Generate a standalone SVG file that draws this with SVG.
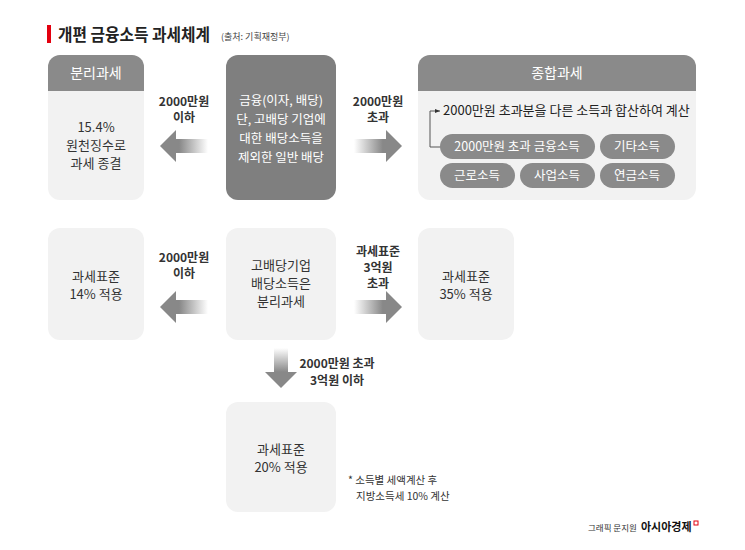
<svg xmlns="http://www.w3.org/2000/svg" width="745" height="550" viewBox="0 0 745 550">
<style>
text{font-family:"Noto Sans CJK KR","Noto Sans",sans-serif;}
.t{font-size:13px;fill:#333;text-anchor:middle}
.w{font-size:12.5px;fill:#fff;text-anchor:middle}
.b{font-size:12px;font-weight:bold;fill:#333;text-anchor:middle}
.light{fill:#f2f2f2}
.hd{fill:#8a8a8a}
</style>
<defs>
<linearGradient id="gl" x1="0" x2="1"><stop offset="0.4" stop-color="#888"/><stop offset="1" stop-color="#888" stop-opacity="0"/></linearGradient>
<linearGradient id="gr" x1="1" x2="0"><stop offset="0.4" stop-color="#888"/><stop offset="1" stop-color="#888" stop-opacity="0"/></linearGradient>
<linearGradient id="gd" x1="0" y1="1" x2="0" y2="0"><stop offset="0.4" stop-color="#888"/><stop offset="1" stop-color="#888" stop-opacity="0"/></linearGradient>
<marker id="ah" markerWidth="6" markerHeight="6" refX="5" refY="3" orient="auto"><path d="M0,1 L5,3 L0,5z" fill="#333"/></marker>
</defs>
<rect width="745" height="550" fill="#fff"/>
<rect x="47" y="25" width="4" height="18" fill="#e3000f"/>
<text x="58" y="41" textLength="152" lengthAdjust="spacingAndGlyphs" style="font-size:16.5px;font-weight:bold;fill:#222">개편 금융소득 과세체계</text>
<text x="221" y="40" style="font-size:9px;fill:#444">(출처: 기획재정부)</text>

<g id="sep">
<rect x="48" y="55" width="96" height="145" rx="12" class="light"/>
<path d="M48,91 V67 a12,12 0 0 1 12,-12 H132 a12,12 0 0 1 12,12 V91z" class="hd"/>
<text x="96" y="78" class="w" style="font-size:14px">분리과세</text>
<text x="96" y="132" class="t">15.4%</text>
<text x="96" y="150" class="t">원천징수로</text>
<text x="96" y="168" class="t">과세 종결</text>
</g>
<g id="fin">
<rect x="226" y="55" width="110" height="145" rx="12" fill="#7f7f7f"/>
<text x="281" y="105" class="w">금융(이자, 배당)</text>
<text x="281" y="124" class="w">단, 고배당 기업에</text>
<text x="281" y="143" class="w">대한 배당소득을</text>
<text x="281" y="162" class="w">제외한 일반 배당</text>
</g>
<g id="comp">
<rect x="418" y="55" width="278" height="145" rx="12" class="light"/>
<path d="M418,91 V67 a12,12 0 0 1 12,-12 H684 a12,12 0 0 1 12,12 V91z" class="hd"/>
<text x="557" y="78" class="w" style="font-size:14px">종합과세</text>
<text x="443" y="115" style="font-size:13px;fill:#222">2000만원 초과분을 다른 소득과 합산하여 계산</text>
<path d="M441,147 H430 V111 H440" fill="none" stroke="#555" stroke-width="1" marker-end="url(#ah)"/>
<rect x="440" y="134" width="155" height="25" rx="12.5" class="hd"/>
<text x="517" y="151" class="w">2000만원 초과 금융소득</text>
<rect x="600" y="134" width="75" height="25" rx="12.5" class="hd"/>
<text x="637" y="151" class="w">기타소득</text>
<rect x="440" y="163" width="75" height="25" rx="12.5" class="hd"/>
<text x="477" y="180" class="w">근로소득</text>
<rect x="520" y="163" width="75" height="25" rx="12.5" class="hd"/>
<text x="557" y="180" class="w">사업소득</text>
<rect x="600" y="163" width="75" height="25" rx="12.5" class="hd"/>
<text x="637" y="180" class="w">연금소득</text>
</g>
<g id="b14">
<rect x="48" y="228" width="96" height="112" rx="12" class="light"/>
<text x="96" y="281" class="t">과세표준</text>
<text x="96" y="299" class="t">14% 적용</text>
</g>
<g id="hd">
<rect x="226" y="228" width="110" height="112" rx="12" class="light"/>
<text x="281" y="270" class="t">고배당기업</text>
<text x="281" y="288" class="t">배당소득은</text>
<text x="281" y="306" class="t">분리과세</text>
</g>
<g id="b35">
<rect x="418" y="228" width="96" height="112" rx="12" class="light"/>
<text x="466" y="281" class="t">과세표준</text>
<text x="466" y="299" class="t">35% 적용</text>
</g>
<g id="b20">
<rect x="226" y="402" width="110" height="110" rx="12" class="light"/>
<text x="281" y="454" class="t">과세표준</text>
<text x="281" y="472" class="t">20% 적용</text>
</g>
<g id="connectors">
<path d="M160,146 L176,130 V139 H208 V153 H176 V162z" fill="url(#gl)"/>
<path d="M402,146 L386,130 V139 H354 V153 H386 V162z" fill="url(#gr)"/>
<path d="M160,307 L176,291 V300 H208 V314 H176 V323z" fill="url(#gl)"/>
<path d="M402,307 L386,291 V300 H354 V314 H386 V323z" fill="url(#gr)"/>
<path d="M281,388 L265,372 H274 V348 H288 V372 H297z" fill="url(#gd)"/>
</g>
<g id="labels">
<text x="184" y="106" class="b">2000만원</text>
<text x="184" y="122" class="b">이하</text>
<text x="378" y="106" class="b">2000만원</text>
<text x="378" y="122" class="b">초과</text>
<text x="184" y="262" class="b">2000만원</text>
<text x="184" y="278" class="b">이하</text>
<text x="378" y="256" class="b">과세표준</text>
<text x="378" y="272" class="b">3억원</text>
<text x="378" y="288" class="b">초과</text>
<text x="337" y="368" class="b">2000만원 초과</text>
<text x="337" y="385" class="b">3억원 이하</text>
</g>
<text x="348" y="484" style="font-size:10.5px;fill:#333">* 소득별 세액계산 후</text>
<text x="356" y="500" style="font-size:10.5px;fill:#333">지방소득세 10% 계산</text>
<text x="588" y="531" style="font-size:8.5px;fill:#333">그래픽 문지원</text>
<text x="641" y="531" style="font-size:11px;font-weight:bold;fill:#111">아시아경제</text>
<rect x="694" y="521" width="4" height="4" fill="none" stroke="#e3000f" stroke-width="1"/>
</svg>
